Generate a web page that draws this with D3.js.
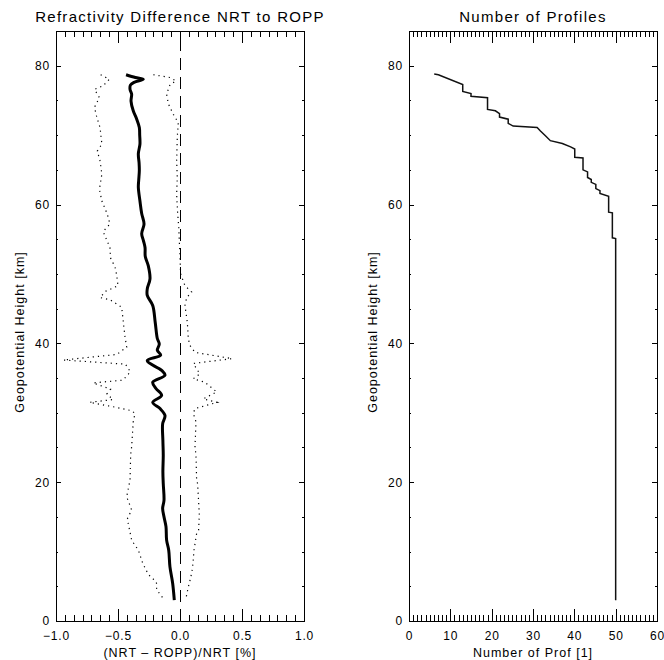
<!DOCTYPE html>
<html>
<head>
<meta charset="utf-8">
<script src="https://cdn.jsdelivr.net/npm/d3@7"></script>
<style>
  html, body { margin: 0; padding: 0; background: #fff; }
  svg { display: block; font-family: "Liberation Sans", Arial, Helvetica, sans-serif; }
</style>
</head>
<body>
<svg id="chart" width="664" height="660"></svg>
<script>
// ---------- DATA ----------
// Left panel: mean refractivity difference (%) vs geopotential height (km)
const meanHeights = [78.7, 78.3, 78.05, 77.6, 77.2, 76.6, 75.9, 74.9, 73.5, 72.3, 71.1, 70.0, 68.7, 67.3, 66.0, 64.9, 63.5, 62.5, 60.5, 58.7, 57.2, 55.8, 54.8, 53.8, 52.5, 51.2, 49.3, 47.85, 46.9, 45.45, 43.05, 40.7, 39.9, 39.0, 38.3, 37.5, 36.1, 35.4, 34.4, 33.5, 32.5, 31.5, 30.6, 29.6, 28.4, 26.0, 23.9, 21.5, 19.8, 17.4, 16.2, 15.0, 13.6, 11.65, 10.2, 7.8, 5.4, 3.0];
const meanValues  = [-0.435, -0.36, -0.296, -0.37, -0.40, -0.403, -0.39, -0.395, -0.377, -0.349, -0.328, -0.325, -0.323, -0.336, -0.33, -0.328, -0.333, -0.336, -0.323, -0.309, -0.29, -0.309, -0.295, -0.282, -0.28, -0.256, -0.242, -0.264, -0.264, -0.22, -0.2, -0.183, -0.167, -0.183, -0.156, -0.264, -0.148, -0.121, -0.22, -0.194, -0.148, -0.22, -0.161, -0.121, -0.14, -0.138, -0.135, -0.138, -0.135, -0.129, -0.14, -0.129, -0.113, -0.108, -0.091, -0.081, -0.059, -0.046];

// Mean minus standard deviation (left dotted curve)
const lowerHeights = [78.7, 78.05, 77.1, 76.6, 75.4, 74.0, 72.5, 71.1, 68.7, 67.7, 66.3, 64.4, 62.2, 60.5, 58.6, 57.2, 56.1, 53.8, 52.3, 51.0, 49.8, 48.3, 47.5, 46.6, 46.3, 45.2, 43.05, 41.0, 39.45, 38.4, 37.6, 37.0, 35.9, 34.7, 34.3, 33.4, 32.7, 31.9, 31.5, 30.8, 30.3, 29.9, 28.7, 25.1, 23.9, 20.3, 17.9, 16.0, 14.7, 11.65, 10.2, 8.3, 6.7, 5.6, 4.5, 3.0];
const lowerValues  = [-0.64, -0.57, -0.62, -0.69, -0.65, -0.69, -0.67, -0.645, -0.63, -0.667, -0.645, -0.63, -0.65, -0.63, -0.586, -0.565, -0.62, -0.565, -0.56, -0.524, -0.51, -0.5, -0.60, -0.645, -0.565, -0.47, -0.457, -0.444, -0.43, -0.51, -0.94, -0.44, -0.40, -0.46, -0.70, -0.56, -0.59, -0.54, -0.73, -0.52, -0.39, -0.363, -0.377, -0.39, -0.398, -0.403, -0.43, -0.39, -0.425, -0.39, -0.336, -0.30, -0.255, -0.19, -0.188, -0.125];

// Mean plus standard deviation (right dotted curve)
const upperHeights = [78.7, 78.3, 77.8, 77.3, 75.9, 74.5, 73.0, 71.8, 69.65, 66.3, 63.9, 61.5, 59.0, 56.7, 54.5, 52.4, 50.0, 48.3, 47.4, 46.6, 45.45, 43.05, 40.66, 39.7, 38.7, 37.8, 37.1, 35.6, 34.9, 34.4, 33.0, 32.0, 31.5, 30.6, 29.9, 28.7, 25.1, 23.9, 20.3, 19.8, 15.3, 13.1, 12.6, 10.2, 7.8, 6.9, 5.4, 4.9, 3.0];
const upperValues  = [-0.215, -0.08, -0.032, -0.08, -0.108, -0.094, -0.054, -0.014, -0.022, -0.027, -0.022, -0.027, -0.02, -0.01, -0.005, 0.0, 0.005, 0.04, 0.094, 0.054, 0.04, 0.059, 0.067, 0.08, 0.121, 0.42, 0.107, 0.16, 0.107, 0.2, 0.296, 0.188, 0.30, 0.121, 0.107, 0.129, 0.121, 0.129, 0.134, 0.142, 0.156, 0.15, 0.134, 0.113, 0.102, 0.094, 0.075, 0.067, 0.045];

// Right panel: number of profiles vs geopotential height (km)
const profHeights = [78.8, 78.7, 77.3, 76.3, 76.0, 75.6, 75.4, 73.7, 73.5, 73.1, 72.6, 72.3, 71.7, 71.3, 71.1, 70.6, 69.9, 69.2, 68.8, 68.3, 68.0, 66.8, 66.7, 65.0, 64.7, 63.9, 63.6, 63.2, 62.9, 62.3, 62.0, 61.6, 61.2, 58.9, 58.8, 55.2, 55.1, 3.0];
const profCounts  = [6.1, 7.1, 13.0, 13.0, 15.0, 15.0, 19.0, 19.0, 20.9, 21.9, 21.9, 24.0, 24.0, 25.2, 31.0, 31.8, 33.0, 34.2, 37.1, 39.1, 40.1, 40.1, 42.1, 42.1, 43.2, 43.2, 44.1, 44.1, 45.2, 45.2, 46.2, 46.2, 48.3, 48.3, 49.2, 49.2, 50.0, 50.0];

// Axis tick values / labels
const heightMajorTicks = [0, 20, 40, 60, 80];
const diffMajorTicks = [-1.0, -0.5, 0.0, 0.5, 1.0];
const countMajorTicks = [0, 10, 20, 30, 40, 50, 60];

const titleLeft = "Refractivity Difference NRT to ROPP";
const titleRight = "Number of Profiles";
const xLabelLeft = "(NRT \u2013 ROPP)/NRT [%]";
const xLabelRight = "Number of Prof [1]";
const yLabel = "Geopotential Height [km]";

// ---------- DRAWING ----------
const svg = d3.select("#chart");
const plotTop = 31, plotBottom = 621;
const y = d3.scaleLinear().domain([0, 85]).range([plotBottom, plotTop]);
const xL = d3.scaleLinear().domain([-1, 1]).range([56, 304]);
const xR = d3.scaleLinear().domain([0, 60]).range([409, 657]);

const plotH = plotBottom - plotTop;
function drawFrame(x, xMajor, xMinorStep, xFmt) {
  const w = x.range()[1] - x.range()[0];
  const g = svg.append("g");
  const xMajLen = 0.02 * plotH, xMinLen = 0.01 * plotH;
  const yMajLen = 0.02 * w, yMinLen = 0.01 * w;
  const dom = x.domain();
  const nMinor = Math.round((dom[1] - dom[0]) / xMinorStep);
  const xMinor = d3.range(nMinor + 1).map(i => dom[0] + i * xMinorStep)
    .filter(v => !xMajor.some(m => Math.abs(m - v) < 1e-6));
  const yMinor = d3.range(0, 85.0001, 5).filter(v => v % 20 !== 0);

  g.append("g").attr("transform", `translate(0,${plotBottom})`)
    .call(d3.axisBottom(x).tickValues(xMajor).tickSize(-xMajLen).tickPadding(10).tickFormat(xFmt));
  g.append("g").attr("transform", `translate(0,${plotBottom})`)
    .call(d3.axisBottom(x).tickValues(xMinor).tickSize(-xMinLen).tickFormat(""));
  g.append("g").attr("transform", `translate(0,${plotTop})`)
    .call(d3.axisTop(x).tickValues(xMajor).tickSize(-xMajLen).tickFormat(""));
  g.append("g").attr("transform", `translate(0,${plotTop})`)
    .call(d3.axisTop(x).tickValues(xMinor).tickSize(-xMinLen).tickFormat(""));
  g.append("g").attr("transform", `translate(${x.range()[0]},0)`)
    .call(d3.axisLeft(y).tickValues(heightMajorTicks).tickSize(-yMajLen).tickPadding(6).tickFormat(d3.format("d")));
  g.append("g").attr("transform", `translate(${x.range()[0]},0)`)
    .call(d3.axisLeft(y).tickValues(yMinor).tickSize(-yMinLen).tickFormat(""));
  g.append("g").attr("transform", `translate(${x.range()[1]},0)`)
    .call(d3.axisRight(y).tickValues(heightMajorTicks).tickSize(-yMajLen).tickFormat(""));
  g.append("g").attr("transform", `translate(${x.range()[1]},0)`)
    .call(d3.axisRight(y).tickValues(yMinor).tickSize(-yMinLen).tickFormat(""));

  g.selectAll(".domain").attr("stroke", "#000").attr("stroke-width", 1).attr("shape-rendering", "crispEdges");
  g.selectAll(".tick line").attr("stroke", "#000").attr("stroke-width", 1).attr("shape-rendering", "crispEdges");
  g.selectAll(".tick text").attr("fill", "#000").style("font-size", "12px").style("letter-spacing", "0.8px");
  return g;
}

const fmtDiff = d => (d < 0 ? "\u2212" : "") + Math.abs(d).toFixed(1);
drawFrame(xL, diffMajorTicks, 0.5 / 7, fmtDiff);
drawFrame(xR, countMajorTicks, 1, d3.format("d"));

// zero dashed line
svg.append("line")
  .attr("x1", xL(0) + 0.5).attr("x2", xL(0) + 0.5).attr("y1", y(0)).attr("y2", y(85))
  .attr("stroke", "#000").attr("stroke-width", 1).attr("stroke-dasharray", "12,7")
  .attr("shape-rendering", "crispEdges");

// left dotted curves
const lineL = (hs, vs) => d3.line().x(i => xL(vs[i])).y(i => y(hs[i]))(d3.range(hs.length));
svg.append("path").attr("d", lineL(lowerHeights, lowerValues))
  .attr("fill", "none").attr("stroke", "#000").attr("stroke-width", 1.2).attr("stroke-dasharray", "1.2,4");
svg.append("path").attr("d", lineL(upperHeights, upperValues))
  .attr("fill", "none").attr("stroke", "#000").attr("stroke-width", 1.2).attr("stroke-dasharray", "1.2,4");

// mean thick curve
const meanLine = d3.line().curve(d3.curveCatmullRom.alpha(0.5))
  .x(i => xL(meanValues[i])).y(i => y(meanHeights[i]));
svg.append("path").attr("d", meanLine(d3.range(meanHeights.length)))
  .attr("fill", "none").attr("stroke", "#000").attr("stroke-width", 3).attr("stroke-linejoin", "round");

// right panel step curve
const profLine = d3.line().x(i => xR(profCounts[i])).y(i => y(profHeights[i]));
svg.append("path").attr("d", profLine(d3.range(profHeights.length)))
  .attr("fill", "none").attr("stroke", "#111").attr("stroke-width", 1.5);

// titles and labels
function addText(x, yy, s, size, rot, ls) {
  const t = svg.append("text").attr("x", x).attr("y", yy).attr("text-anchor", "middle")
    .style("font-size", size + "px").style("letter-spacing", (ls || 0) + "px").attr("fill", "#000").text(s);
  if (rot) t.attr("transform", `rotate(-90,${x},${yy})`);
  return t;
}
addText(xL(0), 22, titleLeft, 15, false, 1.3);
addText(xR(30), 22, titleRight, 15, false, 1.3);
addText(xL(0), 657, xLabelLeft, 12.5, false, 1.0);
addText(xR(30), 657, xLabelRight, 12.5, false, 1.0);
addText(24, 332, yLabel, 12.5, true, 1.0);
addText(377, 332, yLabel, 12.5, true, 1.0);
</script>
</body>
</html>
